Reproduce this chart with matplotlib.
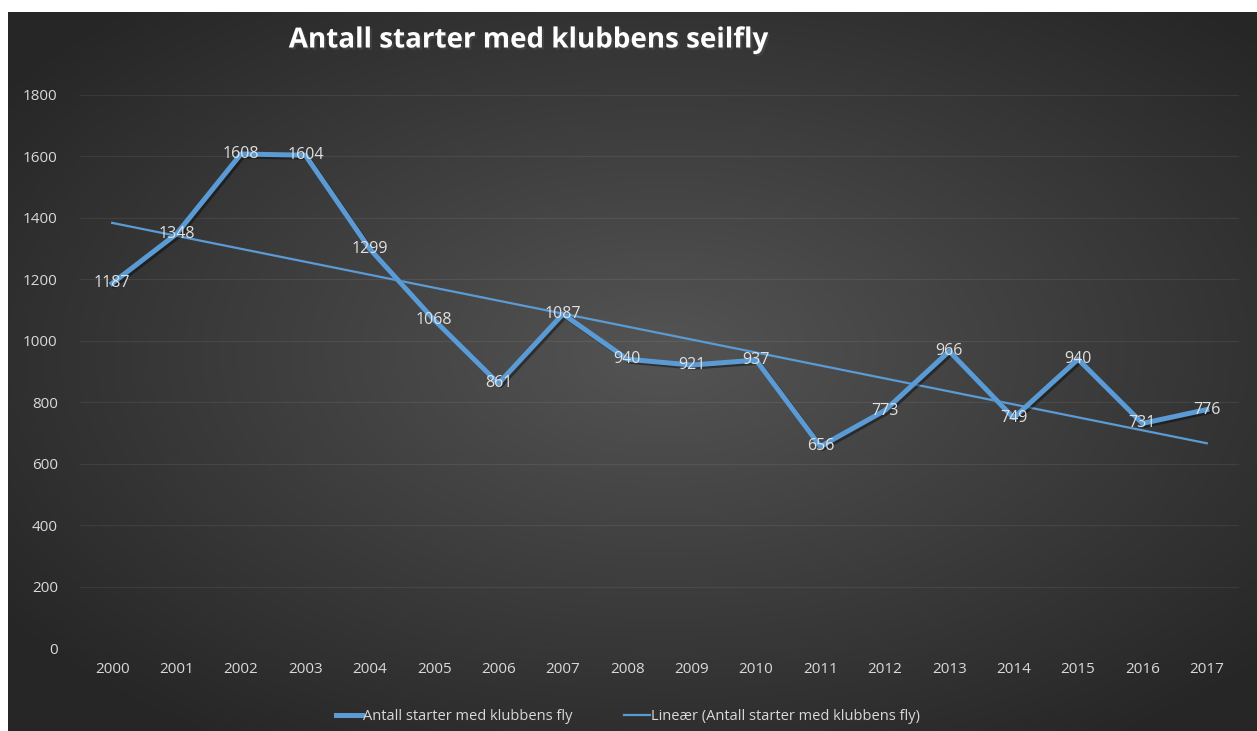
import numpy as np
import matplotlib.pyplot as plt
from matplotlib.lines import Line2D
import matplotlib.patheffects as pe

years = [str(y) for y in range(2000, 2018)]
starts = [1187, 1348, 1608, 1604, 1299, 1068, 861, 1087, 940, 921, 937,
          656, 773, 966, 749, 940, 731, 776]

plt.rcParams['font.family'] = ['Open Sans', 'DejaVu Sans']

fig = plt.figure(figsize=(12.57, 7.31), dpi=100)
fig.patch.set_facecolor('white')

# dark radial gradient background
bg = fig.add_axes([8 / 1257, 0, 1 - 8 / 1257, 1 - 12 / 731])
bg.set_axis_off()
xx, yy = np.meshgrid(np.linspace(-1, 1, 400), np.linspace(-1, 1, 240))
r = np.sqrt((xx - 0.05) ** 2 + (yy + 0.05) ** 2)
shade = 0.33 - 0.18 * np.clip(r / 1.3, 0, 1)
bg.imshow(np.dstack([shade] * 3), aspect='auto', extent=[0, 1, 0, 1],
          interpolation='bicubic')
bg.set_xlim(0, 1)
bg.set_ylim(0, 1)

ax = fig.add_axes([80 / 1257, 1 - 648 / 731, (1239 - 80) / 1257, (648 - 95) / 731])
ax.set_facecolor('none')

x = np.arange(len(years))
blue = '#5B9BD5'

coef = np.polyfit(x, starts, 1)
trend = np.polyval(coef, x)

ax.plot(x, trend, color=blue, lw=1.6, zorder=2)
ax.plot(x, starts, color=blue, lw=3.6, solid_joinstyle='round', zorder=3,
        path_effects=[pe.SimpleLineShadow(offset=(1.5, -1.5), alpha=0.4),
                      pe.Normal()])

for xi, v in zip(x, starts):
    ax.text(xi, v, str(v), color='#E0E0E0', fontsize=11.5, ha='center',
            va='center', zorder=4)

ax.set_xlim(-0.5, len(years) - 0.5)
ax.set_ylim(0, 1800)
ax.set_yticks(range(0, 1801, 200))
ax.set_xticks(x)
ax.set_xticklabels(years)
ax.grid(axis='y', color='#ffffff', alpha=0.07, lw=0.9)
ax.set_axisbelow(True)
for s in ax.spines.values():
    s.set_visible(False)
ax.tick_params(length=0, colors='#D9D9D9', labelsize=11)
ax.tick_params(axis='y', pad=16)
ax.tick_params(axis='x', pad=10)

fig.text(528 / 1257, 1 - 40 / 731, 'Antall starter med klubbens seilfly',
         color='white', fontsize=20, fontweight='bold', ha='center', va='center',
         path_effects=[pe.withSimplePatchShadow(offset=(1.5, -1.5), alpha=0.6)])

handles = [Line2D([], [], color=blue, lw=3.6),
           Line2D([], [], color=blue, lw=1.6)]
labels = ['Antall starter med klubbens fly',
          'Lineær (Antall starter med klubbens fly)']
fig.legend(handles, labels, loc='center', bbox_to_anchor=(628 / 1257, 1 - 717 / 731),
           ncol=2, frameon=False, fontsize=10.5, labelcolor='#D9D9D9',
           handlelength=1.8, handletextpad=0.1, columnspacing=3.5)

fig.savefig('out.png', dpi=100, facecolor=fig.get_facecolor())
